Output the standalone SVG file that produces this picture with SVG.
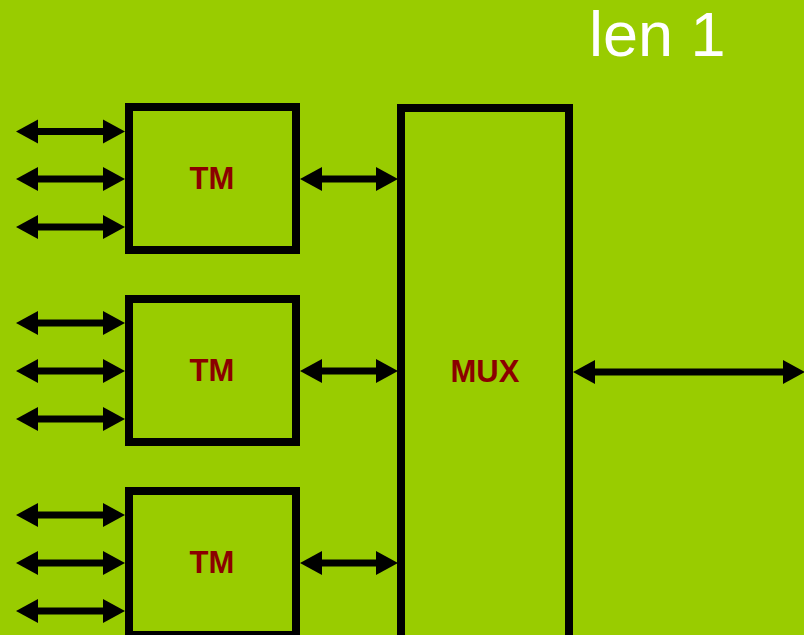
<svg xmlns="http://www.w3.org/2000/svg" width="804" height="635" viewBox="0 0 804 635">
<style>
.box{fill:none;stroke:#000;stroke-width:8}
.lbl{font-family:"Liberation Sans",Arial,sans-serif;font-weight:bold;font-size:31px;fill:#8B0000;text-anchor:middle}
.conn{stroke:#000;stroke-width:7;fill:none;marker-start:url(#ah);marker-end:url(#ah)}
.title{font-family:"Liberation Sans",Arial,sans-serif;font-size:63px;fill:#fff}
</style>
<defs>
<marker id="ah" markerUnits="userSpaceOnUse" viewBox="0 -13 23 26" markerWidth="23" markerHeight="26" refX="1" refY="0" orient="auto-start-reverse">
<path d="M0,-12 L22,0 L0,12 Z" fill="#000"/>
</marker>
</defs>
<rect width="804" height="635" fill="#99CC00"/>
<text class="title" x="589" y="56">len 1</text>
<g id="tm1"><rect class="box" x="129" y="107" width="167" height="143"/><text class="lbl" x="212" y="189">TM</text></g>
<g id="tm2"><rect class="box" x="129" y="299" width="167" height="143"/><text class="lbl" x="212" y="381">TM</text></g>
<g id="tm3"><rect class="box" x="129" y="491" width="167" height="144"/><text class="lbl" x="212" y="573">TM</text></g>
<g id="mux"><rect class="box" x="401" y="108" width="168" height="600"/><text class="lbl" x="485" y="382">MUX</text></g>
<g id="connectors">
<path class="conn" d="M37,131.5H104"/>
<path class="conn" d="M37,179H104"/>
<path class="conn" d="M37,227H104"/>
<path class="conn" d="M37,323H104"/>
<path class="conn" d="M37,371H104"/>
<path class="conn" d="M37,419H104"/>
<path class="conn" d="M37,515H104"/>
<path class="conn" d="M37,563H104"/>
<path class="conn" d="M37,611H104"/>
<path class="conn" d="M321,179H377"/>
<path class="conn" d="M321,371H377"/>
<path class="conn" d="M321,563H377"/>
<path class="conn" d="M594,372H784"/>
</g>
</svg>
